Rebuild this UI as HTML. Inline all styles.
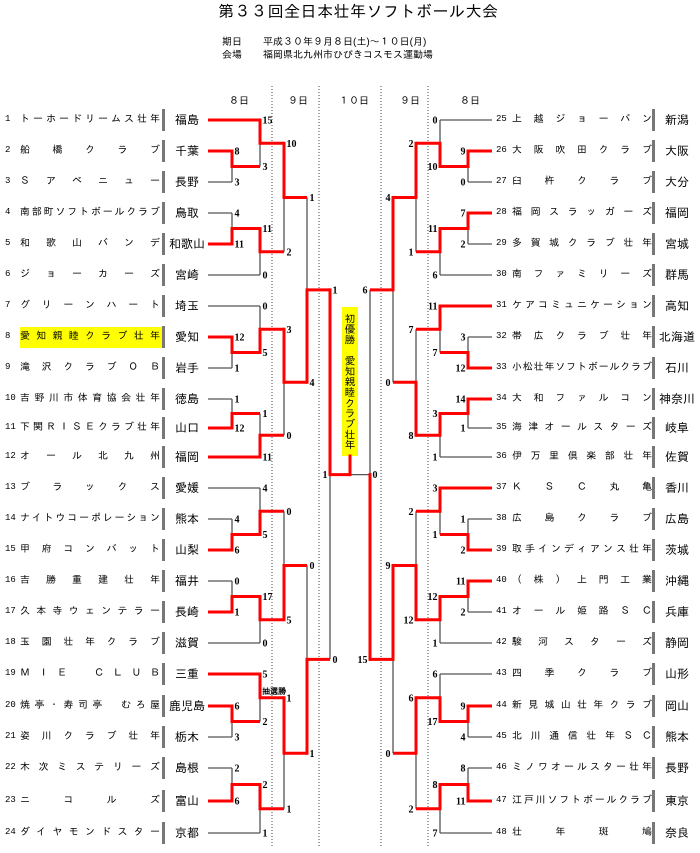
<!DOCTYPE html>
<html><head><meta charset="utf-8">
<style>
html,body{margin:0;padding:0;background:#fff;}
body{width:700px;height:853px;position:relative;overflow:hidden;font-family:"Liberation Sans","IPAGothic","Noto Sans CJK JP",sans-serif;color:#000;}
.t{position:absolute;white-space:nowrap;}
.r{position:absolute;height:20px;margin-top:-10px;}
.r i{position:absolute;top:4px;font-style:normal;font-size:9px;font-family:"Liberation Mono",monospace;}
.r b{position:absolute;top:3px;width:140px;font-weight:normal;font-size:10px;display:flex;justify-content:space-between;height:14px;line-height:14px;}
.r u{position:absolute;top:-1px;height:22px;border-left:3px solid #777;text-decoration:none;font-size:12px;line-height:22px;text-align:center;width:40px;padding-left:2px;}
.L i{left:5px}.L b{left:20px}.L u{left:162px}
.R i{left:496px}.R b{left:512px}.R u{left:652px}
.hl{position:absolute;left:20px;top:327px;width:142px;height:21px;background:#ffff00;}
svg{position:absolute;left:0;top:0;}
.yb{position:absolute;left:342px;top:307px;width:16px;height:149px;background:#ffff00;writing-mode:vertical-rl;font-size:10.5px;line-height:16px;text-align:center;letter-spacing:0;overflow:hidden;}
</style></head><body>
<div class="t" style="left:218px;top:3px;font-size:16px;letter-spacing:0.5px;">第３３回全日本壮年ソフトボール大会</div>
<div class="t" style="left:222px;top:37px;font-size:10px;">期日</div>
<div class="t" style="left:263px;top:37px;font-size:10px;">平成３０年９月８日(土)～１０日(月)</div>
<div class="t" style="left:222px;top:50px;font-size:10px;">会場</div>
<div class="t" style="left:263px;top:50px;font-size:10px;">福岡県北九州市ひびきコスモス運動場</div>
<div class="t" style="left:229px;top:96px;font-size:10px;">８日</div>
<div class="t" style="left:288px;top:96px;font-size:10px;">９日</div>
<div class="t" style="left:339px;top:96px;font-size:10px;">１０日</div>
<div class="t" style="left:400px;top:96px;font-size:10px;">９日</div>
<div class="t" style="left:460px;top:96px;font-size:10px;">８日</div>
<div class="hl"></div>
<div class="yb">初優勝　愛知親睦クラブ壮年</div>

<div class="r L" style="top:120px"><i>1</i><b>トーホードリームス壮年</b><u>福島</u></div>
<div class="r L" style="top:151px"><i>2</i><b>船橋クラブ</b><u>千葉</u></div>
<div class="r L" style="top:182px"><i>3</i><b>Ｓアベニュー</b><u>長野</u></div>
<div class="r L" style="top:213px"><i>4</i><b>南部町ソフトボールクラブ</b><u>鳥取</u></div>
<div class="r L" style="top:244px"><i>5</i><b>和歌山バンデ</b><u>和歌山</u></div>
<div class="r L" style="top:275px"><i>6</i><b>ジョーカーズ</b><u>宮崎</u></div>
<div class="r L" style="top:306px"><i>7</i><b>グリーンハート</b><u>埼玉</u></div>
<div class="r L" style="top:337px"><i>8</i><b>愛知親睦クラブ壮年</b><u>愛知</u></div>
<div class="r L" style="top:368px"><i>9</i><b>滝沢クラブＯＢ</b><u>岩手</u></div>
<div class="r L" style="top:399px"><i>10</i><b>吉野川市体育協会壮年</b><u>徳島</u></div>
<div class="r L" style="top:428px"><i>11</i><b>下関ＲＩＳＥクラブ壮年</b><u>山口</u></div>
<div class="r L" style="top:457px"><i>12</i><b>オール北九州</b><u>福岡</u></div>
<div class="r L" style="top:488px"><i>13</i><b>ブラックス</b><u>愛媛</u></div>
<div class="r L" style="top:519px"><i>14</i><b>ナイトウコーポレーション</b><u>熊本</u></div>
<div class="r L" style="top:550px"><i>15</i><b>甲府コンバット</b><u>山梨</u></div>
<div class="r L" style="top:581px"><i>16</i><b>吉勝重建壮年</b><u>福井</u></div>
<div class="r L" style="top:612px"><i>17</i><b>久本寺ウェンテラー</b><u>長崎</u></div>
<div class="r L" style="top:643px"><i>18</i><b>玉園壮年クラブ</b><u>滋賀</u></div>
<div class="r L" style="top:674px"><i>19</i><b>ＭＩＥ　ＣＬＵＢ</b><u>三重</u></div>
<div class="r L" style="top:706px"><i>20</i><b>焼亭・寿司亭　むろ屋</b><u>鹿児島</u></div>
<div class="r L" style="top:737px"><i>21</i><b>姿川クラブ壮年</b><u>栃木</u></div>
<div class="r L" style="top:768px"><i>22</i><b>木次ミステリーズ</b><u>島根</u></div>
<div class="r L" style="top:801px"><i>23</i><b>ニコルズ</b><u>富山</u></div>
<div class="r L" style="top:833px"><i>24</i><b>ダイヤモンドスター</b><u>京都</u></div>

<div class="r R" style="top:120px"><i>25</i><b>上越ジョーバン</b><u>新潟</u></div>
<div class="r R" style="top:151px"><i>26</i><b>大阪吹田クラブ</b><u>大阪</u></div>
<div class="r R" style="top:182px"><i>27</i><b>臼杵クラブ</b><u>大分</u></div>
<div class="r R" style="top:213px"><i>28</i><b>福岡スラッガーズ</b><u>福岡</u></div>
<div class="r R" style="top:244px"><i>29</i><b>多賀城クラブ壮年</b><u>宮城</u></div>
<div class="r R" style="top:275px"><i>30</i><b>南ファミリーズ</b><u>群馬</u></div>
<div class="r R" style="top:306px"><i>31</i><b>ケアコミュニケーション</b><u>高知</u></div>
<div class="r R" style="top:337px"><i>32</i><b>帯広クラブ壮年</b><u>北海道</u></div>
<div class="r R" style="top:368px"><i>33</i><b>小松壮年ソフトボールクラブ</b><u>石川</u></div>
<div class="r R" style="top:399px"><i>34</i><b>大和ファルコン</b><u>神奈川</u></div>
<div class="r R" style="top:428px"><i>35</i><b>海津オールスターズ</b><u>岐阜</u></div>
<div class="r R" style="top:457px"><i>36</i><b>伊万里倶楽部壮年</b><u>佐賀</u></div>
<div class="r R" style="top:488px"><i>37</i><b>ＫＳＣ丸亀</b><u>香川</u></div>
<div class="r R" style="top:519px"><i>38</i><b>広島クラブ</b><u>広島</u></div>
<div class="r R" style="top:550px"><i>39</i><b>取手インディアンス壮年</b><u>茨城</u></div>
<div class="r R" style="top:581px"><i>40</i><b>（株）上門工業</b><u>沖縄</u></div>
<div class="r R" style="top:612px"><i>41</i><b>オール姫路ＳＣ</b><u>兵庫</u></div>
<div class="r R" style="top:643px"><i>42</i><b>駿河スターズ</b><u>静岡</u></div>
<div class="r R" style="top:674px"><i>43</i><b>四季クラブ</b><u>山形</u></div>
<div class="r R" style="top:706px"><i>44</i><b>新見城山壮年クラブ</b><u>岡山</u></div>
<div class="r R" style="top:737px"><i>45</i><b>北川通信壮年ＳＣ</b><u>熊本</u></div>
<div class="r R" style="top:768px"><i>46</i><b>ミノワオールスター壮年</b><u>長野</u></div>
<div class="r R" style="top:801px"><i>47</i><b>江戸川ソフトボールクラブ</b><u>東京</u></div>
<div class="r R" style="top:833px"><i>48</i><b>壮年斑鳩</b><u>奈良</u></div>

<svg id="s" width="700" height="853" xmlns="http://www.w3.org/2000/svg">
<text x="262" y="694" font-size="8" font-weight="bold" font-family="IPAGothic, 'Noto Sans CJK JP', sans-serif">抽選勝</text>
</svg>
<script>
(function(){
document.querySelectorAll('.r b').forEach(function(b){
  var t=b.textContent;b.textContent='';
  Array.from(t).forEach(function(c){var s=document.createElement('span');s.textContent=c;b.appendChild(s);});
});
var Y=[120,151,182,213,244,275,306,337,368,399,428,457,488,519,550,581,612,643,674,706,737,768,801,833];
var blk='',red='',txt='',dots='';
function hl(x1,x2,y,r){var s='<line x1="'+x1+'" y1="'+y+'" x2="'+x2+'" y2="'+y+'" ';if(r)red+=s+'stroke="#ff0000" stroke-width="3"/>';else blk+=s+'stroke="#555" stroke-width="1.3"/>';}
function vl(x,y1,y2,r){var s='<line x1="'+x+'" y1="'+y1+'" x2="'+x+'" y2="'+y2+'" ';if(r)red+=s+'stroke="#ff0000" stroke-width="3" stroke-linecap="square"/>';else blk+=s+'stroke="#555" stroke-width="1.3"/>';}
function lab(x,y,t,d){txt+='<text x="'+(x+d*2.5)+'" y="'+(y+3.5)+'" font-size="10" font-weight="bold" font-family="Liberation Serif, serif" text-anchor="'+(d>0?'start':'end')+'">'+t+'</text>';}
function side(X,d,D){
  function team(i){return {y:Y[i],x0:X[0],team:true};}
  function match(l,a,b,sa,sb,ov){
    var x=X[l];var tw=(ov===undefined)?(sa>sb):ov;
    hl(a.x0,x,a.y,a.team?tw:true);hl(b.x0,x,b.y,b.team?!tw:true);
    var m=(a.y+b.y)/2;
    vl(x,a.y,m,tw);vl(x,m,b.y,!tw);
    lab(x,a.y,sa,d);lab(x,b.y,sb,d);
    return {y:m,x0:x,team:false};
  }
  function tri(k,type,r1,r2){
    var a=team(k),b=team(k+1),c=team(k+2),m;
    if(type==='A'){m=match(1,b,c,r1[0],r1[1]);return match(2,a,m,r2[0],r2[1]);}
    m=match(1,a,b,r1[0],r1[1]);return match(2,m,c,r2[0],r2[1]);
  }
  var g=[];
  for(var q=0;q<4;q++){
    var t1=tri(q*6,'A',D.t[q*2][0],D.t[q*2][1]);
    var t2=tri(q*6+3,'B',D.t[q*2+1][0],D.t[q*2+1][1]);
    g.push(match(3,t1,t2,D.g[q][0],D.g[q][1],D.go[q]));
  }
  var h1=match(4,g[0],g[1],D.h[0][0],D.h[0][1]);
  var h2=match(4,g[2],g[3],D.h[1][0],D.h[1][1]);
  return match(5,h1,h2,D.s[0],D.s[1]);
}
var XL=[208,232,260,284,307,330];
var XR=XL.map(function(x){return 700-x;});
var sL=side(XL,1,{
 t:[[[8,3],[15,3]],[[4,11],[11,0]],[[12,1],[0,5]],[[1,12],[1,11]],[[4,6],[4,5]],[[0,1],[17,0]],[[6,3],[5,2]],[[2,6],[2,1]]],
 g:[[10,2],[3,0],[0,5],[1,1]],go:[undefined,undefined,undefined,true],
 h:[[1,4],[0,1]],s:[1,0]});
var sR=side(XR,-1,{
 t:[[[9,0],[0,10]],[[7,2],[11,6]],[[3,12],[11,7]],[[14,1],[3,1]],[[1,2],[3,1]],[[11,2],[12,1]],[[9,4],[6,17]],[[8,11],[8,7]]],
 g:[[2,1],[7,8],[2,12],[6,2]],go:[undefined,undefined,undefined,undefined],
 h:[[4,0],[9,0]],s:[6,15]});
var fy=sL.y;
hl(330,350,fy,true);hl(350,370,fy,false);
vl(350,456,fy,true);
lab(330,fy,'1',-1);lab(370,fy,'0',1);
[272,319,381,428].forEach(function(x){dots+='<line x1="'+x+'" y1="86" x2="'+x+'" y2="848" stroke="#444" stroke-width="1" stroke-dasharray="1,2"/>';});
var s=document.getElementById('s');
s.insertAdjacentHTML('afterbegin',dots+blk+red+txt);
})();
</script>
</body></html>
